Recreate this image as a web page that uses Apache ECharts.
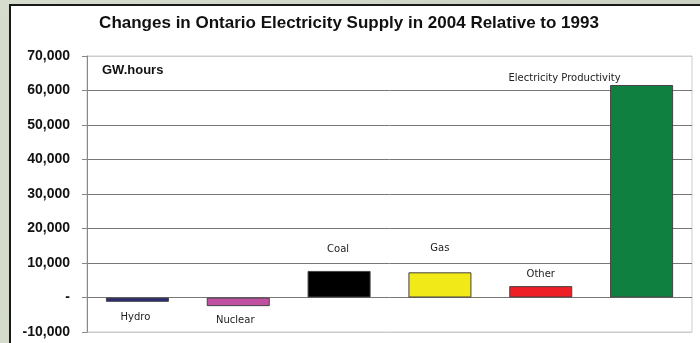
<!DOCTYPE html>
<html><head><meta charset="utf-8">
<script src="https://cdn.jsdelivr.net/npm/echarts@6/dist/echarts.min.js"></script>
<style>html,body{margin:0;padding:0;}#c{width:700px;height:343px;}</style>
</head><body><div id="c"></div>
<script>
const categories = ['Hydro', 'Nuclear', 'Coal', 'Gas', 'Other', 'Electricity Productivity'];
const values = [-1250, -2500, 7700, 7300, 3300, 61600];
const barColors = ['#2a2a78', '#c050a0', '#000000', '#f2ea18', '#ee2026', '#108040'];
const yTicks = [-10000, 0, 10000, 20000, 30000, 40000, 50000, 60000, 70000];

const labelPlace = [
  {position: 'bottom', distance: 11, offset: [-2, 0]},
  {position: 'bottom', distance: 9, offset: [-3, 0]},
  {position: 'top', distance: 17, offset: [-1, 0]},
  {position: 'top', distance: 19, offset: [0, 0]},
  {position: 'top', distance: 7, offset: [0, 0]},
  {position: 'top', distance: 2, offset: [-77, 0]}
];

const chart = echarts.init(document.getElementById('c'));
chart.setOption({
  animation: false,
  backgroundColor: {
    type: 'linear', x: 0, y: 0, x2: 1, y2: 1,
    colorStops: [{offset: 0, color: '#d6ddcf'}, {offset: 1, color: '#c7cfc0'}]
  },
  graphic: [
    {type: 'rect', z: -10, shape: {x: 10, y: 5, width: 720, height: 400},
     style: {fill: '#ffffff', stroke: '#1a1a1a', lineWidth: 2}},
    {type: 'text', left: 102, top: 64, z: 10,
     style: {text: 'GW.hours', font: 'bold 13px "Liberation Sans", Arial, sans-serif', fill: '#111'}}
  ],
  title: {
    text: 'Changes in Ontario Electricity Supply in 2004 Relative to 1993',
    left: 344, textAlign: 'center', top: 10,
    textStyle: {fontFamily: '"Liberation Sans", Arial, sans-serif', fontWeight: 'bold', fontSize: 17, color: '#111'}
  },
  grid: {left: 87, right: 8, top: 56, bottom: 11, show: true, borderColor: '#cccccc', borderWidth: 1, backgroundColor: 'transparent'},
  xAxis: {
    type: 'category', data: categories,
    axisLine: {show: false}, axisTick: {show: false}, axisLabel: {show: false}, splitLine: {show: false}
  },
  yAxis: {
    type: 'value', min: yTicks[0], max: yTicks[yTicks.length - 1], interval: 10000,
    axisLine: {show: true, lineStyle: {color: '#888', width: 1}},
    axisTick: {show: true, inside: false, length: 5, lineStyle: {color: '#888'}},
    axisLabel: {
      margin: 17, color: '#111', fontWeight: 'bold', fontSize: 14,
      fontFamily: '"Liberation Sans", Arial, sans-serif',
      formatter: v => v === 0 ? '-' : v.toLocaleString('en-US')
    },
    splitLine: {show: true, lineStyle: {color: ['#cccccc', '#777', '#777', '#777', '#777', '#777', '#777', '#777', '#cccccc'], width: 1}}
  },
  series: [{
    type: 'bar',
    barWidth: '62.5%',
    data: values.map((v, i) => ({
      value: v,
      itemStyle: {color: barColors[i], borderColor: '#444', borderWidth: 1},
      label: {
        show: true, position: labelPlace[i].position, distance: labelPlace[i].distance,
        offset: labelPlace[i].offset,
        formatter: categories[i], fontSize: 10, color: '#222',
        fontFamily: '"DejaVu Sans", sans-serif'
      }
    }))
  }]
});
</script></body></html>
